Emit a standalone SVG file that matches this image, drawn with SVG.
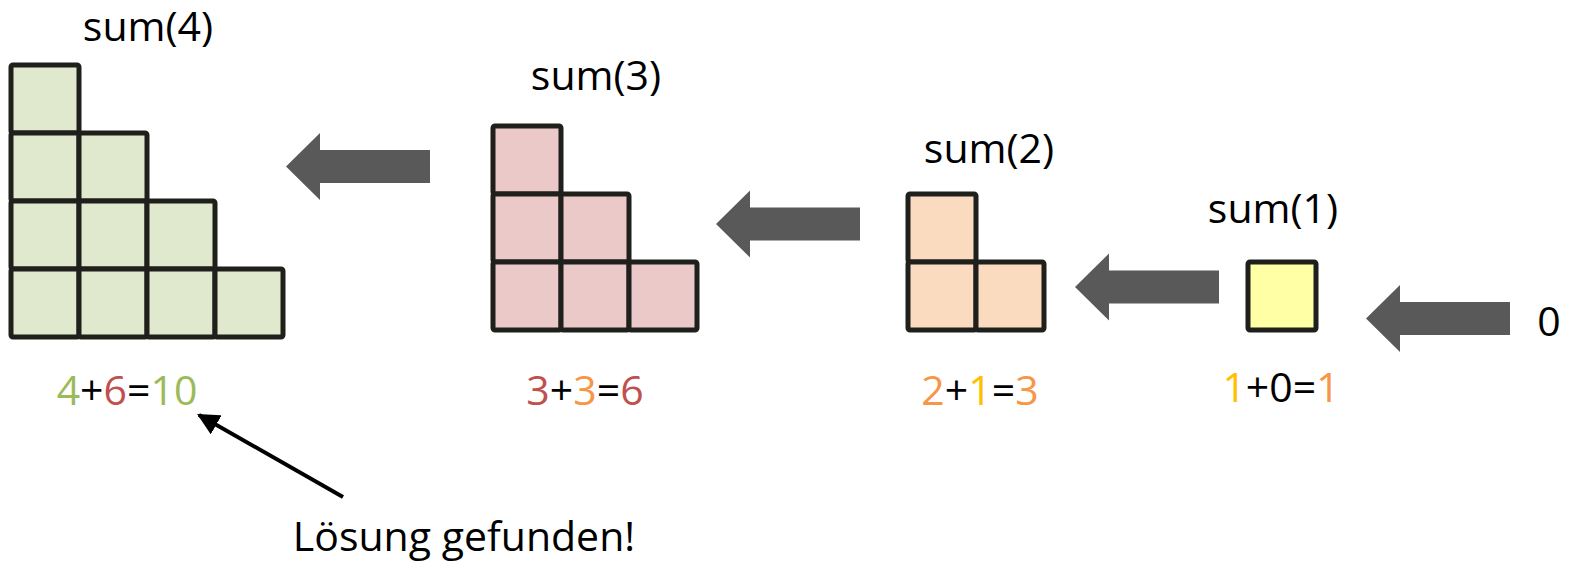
<svg xmlns="http://www.w3.org/2000/svg" width="1569" height="563" viewBox="0 0 1569 563">
<style>
text{font-family:"Open Sans","Liberation Sans",sans-serif;font-size:41px;fill:#000}
.c{stroke:#1f1f1c;stroke-width:5;stroke-linejoin:round}
.g{fill:#E0E9CD}
.p{fill:#EAC9C8}
.o{fill:#FBDBC0}
.y{fill:#FFFFA6}
.ar{fill:#595959}
.G{fill:#9BBB59}.R{fill:#C0504D}.O{fill:#F79646}.Y{fill:#FFC000}
</style>
<defs>
<marker id="ah" viewBox="0 0 10 10" refX="9" refY="5" markerWidth="5.5" markerHeight="5.5" orient="auto" markerUnits="strokeWidth">
<path d="M0,0 L10,5 L0,10 z" fill="#000"/>
</marker>
</defs>
<rect width="1569" height="563" fill="#fff"/>
<g id="sum4">
<text x="148" y="41" text-anchor="middle">sum(4)</text>
<rect class="c g" x="11" y="65" width="68" height="68" rx="2"/>
<rect class="c g" x="11" y="133" width="68" height="68" rx="2"/>
<rect class="c g" x="79" y="133" width="68" height="68" rx="2"/>
<rect class="c g" x="11" y="201" width="68" height="68" rx="2"/>
<rect class="c g" x="79" y="201" width="68" height="68" rx="2"/>
<rect class="c g" x="147" y="201" width="68" height="68" rx="2"/>
<rect class="c g" x="11" y="269" width="68" height="68" rx="2"/>
<rect class="c g" x="79" y="269" width="68" height="68" rx="2"/>
<rect class="c g" x="147" y="269" width="68" height="68" rx="2"/>
<rect class="c g" x="215" y="269" width="68" height="68" rx="2"/>
<text x="127" y="405" text-anchor="middle"><tspan class="G">4</tspan>+<tspan class="R">6</tspan>=<tspan class="G">10</tspan></text>
</g>
<g id="sum3">
<text x="596" y="90" text-anchor="middle">sum(3)</text>
<rect class="c p" x="493" y="126" width="68" height="68" rx="2"/>
<rect class="c p" x="493" y="194" width="68" height="68" rx="2"/>
<rect class="c p" x="561" y="194" width="68" height="68" rx="2"/>
<rect class="c p" x="493" y="262" width="68" height="68" rx="2"/>
<rect class="c p" x="561" y="262" width="68" height="68" rx="2"/>
<rect class="c p" x="629" y="262" width="68" height="68" rx="2"/>
<text x="585" y="405" text-anchor="middle"><tspan class="R">3</tspan>+<tspan class="O">3</tspan>=<tspan class="R">6</tspan></text>
</g>
<g id="sum2">
<text x="989" y="163" text-anchor="middle">sum(2)</text>
<rect class="c o" x="908" y="194" width="68" height="68" rx="2"/>
<rect class="c o" x="908" y="262" width="68" height="68" rx="2"/>
<rect class="c o" x="976" y="262" width="68" height="68" rx="2"/>
<text x="980" y="405" text-anchor="middle"><tspan class="O">2</tspan>+<tspan class="Y">1</tspan>=<tspan class="O">3</tspan></text>
</g>
<g id="sum1">
<text x="1273" y="223" text-anchor="middle">sum(1)</text>
<rect class="c y" x="1248" y="262" width="68" height="68" rx="2"/>
<text x="1281" y="402" text-anchor="middle"><tspan class="Y">1</tspan>+0=<tspan class="O">1</tspan></text>
</g>
<g id="zero">
<text x="1549" y="336" text-anchor="middle">0</text>
</g>
<g id="note">
<text x="464" y="551" text-anchor="middle">Lösung gefunden!</text>
</g>
<g id="connectors">
<polygon class="ar" points="286,166.5 320,133 320,150 430,150 430,183 320,183 320,200"/>
<polygon class="ar" points="716,224 750,190.5 750,207.5 860,207.5 860,240.5 750,240.5 750,257.5"/>
<polygon class="ar" points="1075,287 1109,253.5 1109,270.5 1219,270.5 1219,303.5 1109,303.5 1109,320.5"/>
<polygon class="ar" points="1366,318.5 1400,285 1400,302 1510,302 1510,335 1400,335 1400,352"/>
<line x1="343" y1="497" x2="199" y2="415" stroke="#000" stroke-width="4" marker-end="url(#ah)"/>
</g>
</svg>
